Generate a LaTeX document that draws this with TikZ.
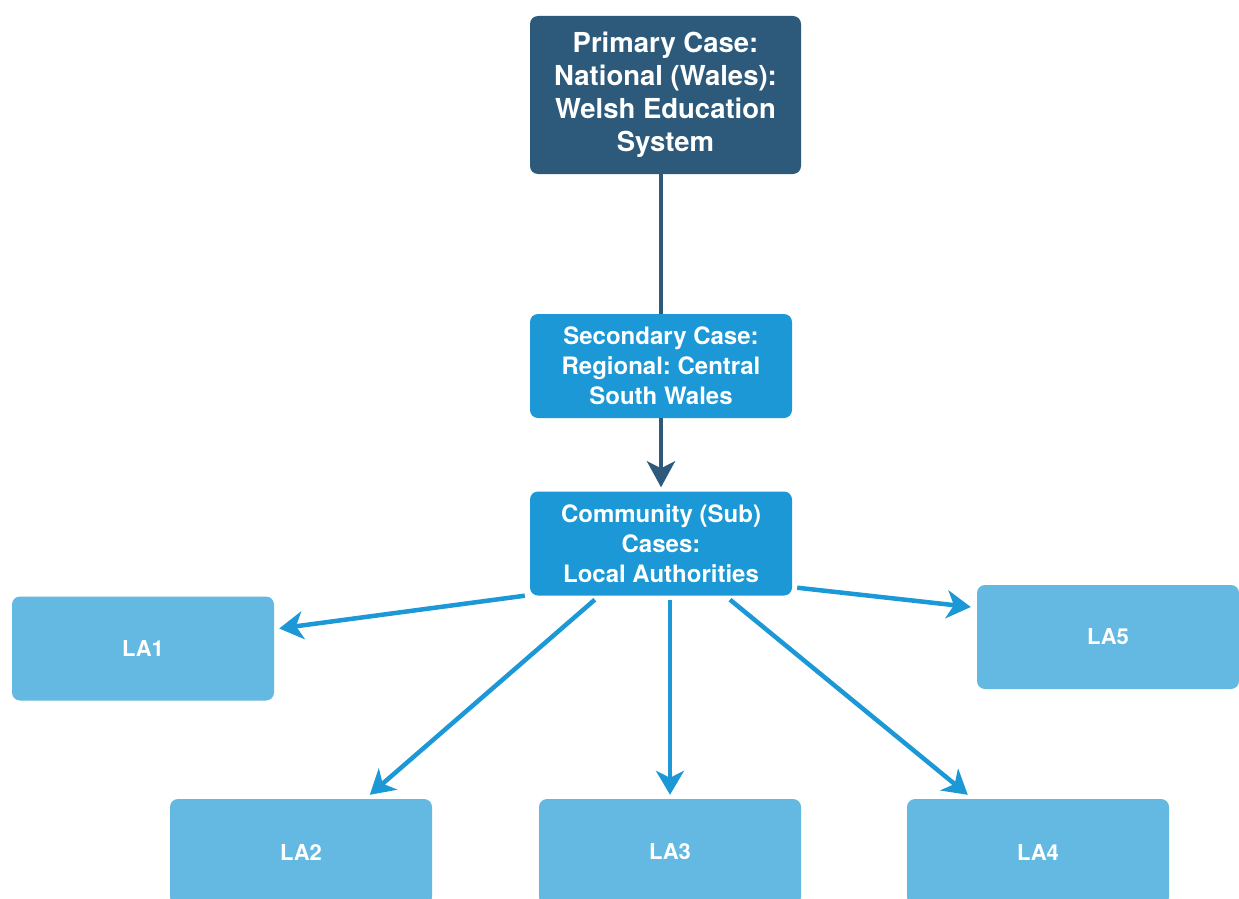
\documentclass[tikz,border=0pt]{standalone}
\usepackage{fontspec}
\setmainfont{TeX Gyre Heros}
\frenchspacing
\usetikzlibrary{arrows.meta}
\definecolor{navy}{HTML}{2D5A7B}
\definecolor{midblue}{HTML}{1B98D5}
\definecolor{lightblue}{HTML}{63B9E1}
\tikzset{
  casebox/.style={rounded corners=8pt, text=white, align=center, inner sep=0pt},
  primarybox/.style={casebox, fill=navy, minimum width=271pt, minimum height=158pt,
    font=\bfseries\fontsize{27.5}{33}\selectfont},
  levelbox/.style={casebox, fill=midblue, minimum width=262pt, minimum height=104pt,
    font=\bfseries\fontsize{24}{30}\selectfont},
  labox/.style={casebox, fill=lightblue, minimum width=262pt, minimum height=104pt,
    font=\bfseries\fontsize{22}{26}\selectfont},
  darklink/.style={draw=navy, line width=4.5pt},
  blueline/.style={draw=midblue, line width=4.5pt,
    -{Stealth[length=24pt, width=28pt, inset=7pt]}},
}
\begin{document}
\begin{tikzpicture}[x=1pt, y=-1pt]
  \useasboundingbox (0,0) rectangle (1239,899);
  \clip (0,0) rectangle (1239,899);

  % case hierarchy
  \node[primarybox] (primary) at (665.5,95) {Primary Case:\\National (Wales):\\Welsh Education\\System};
  \node[levelbox] (secondary) at (661,366) {Secondary Case:\\Regional: Central\\South Wales};
  \node[levelbox] (community) at (661,543.5) {Community (Sub)\\Cases:\\Local Authorities};

  % local authorities
  \node[labox] (la1) at (143,648.5) {LA1};
  \node[labox] (la5) at (1108,637) {LA5};
  \node[labox, minimum height=106pt] (la2) at (301,852) {LA2};
  \node[labox, minimum height=106pt] (la3) at (670,852) {LA3};
  \node[labox, minimum height=106pt] (la4) at (1038,852) {LA4};

  % links down the hierarchy
  \draw[darklink] (primary.south -| secondary.north) -- (secondary.north);
  \draw[darklink, -{Stealth[length=26pt, width=28pt, inset=7pt]}]
    (secondary.south) -- ([yshift=4pt]community.north);

  % community to local authorities
  \draw[blueline] ([xshift=-5pt]community.south west) -- ([xshift=5pt,yshift=20pt]la1.east);
  \draw[blueline] ([xshift=65pt,yshift=-4pt]community.south west) -- ([xshift=200pt,yshift=4pt]la2.north west);
  \draw[blueline] ([yshift=-4pt]la3.north |- community.south) -- ([yshift=4pt]la3.north);
  \draw[blueline] ([xshift=69pt,yshift=-4pt]community.south) -- ([xshift=61pt,yshift=4pt]la4.north west);
  \draw[blueline] ([xshift=5pt,yshift=8pt]community.south east) -- ([xshift=-6pt,yshift=30pt]la5.west);
\end{tikzpicture}
\end{document}
